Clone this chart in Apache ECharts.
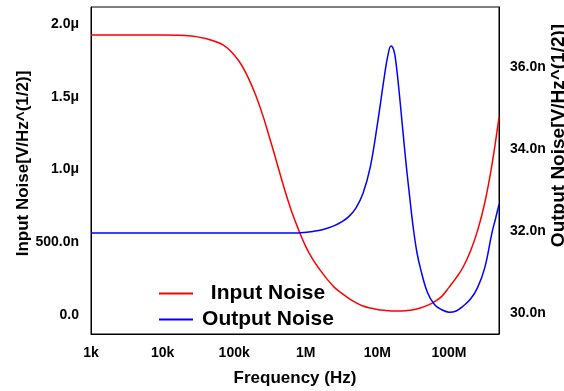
<!DOCTYPE html>
<html>
<head>
<meta charset="utf-8">
<script src="https://cdn.jsdelivr.net/npm/echarts@6/dist/echarts.min.js"></script>
<style>
html,body{margin:0;padding:0;background:#fff;}
#chart{width:564px;height:391px;}
</style>
</head>
<body>
<div id="chart"></div>
<script>
// Frequency (Hz) points for each curve
var inputFreq = [1e3, 1e4, 2.51e4, 3.98e4, 6.31e4, 7.94e4, 1e5, 1.26e5, 1.58e5, 2e5, 2.51e5, 3.16e5, 3.98e5, 5.01e5, 6.31e5, 7.94e5, 1e6, 1.26e6, 1.58e6, 2e6, 2.51e6, 3.16e6, 3.98e6, 5.01e6, 6.31e6, 7.94e6, 1e7, 1.26e7, 1.58e7, 2e7, 2.51e7, 3.16e7, 3.98e7, 5.01e7, 6.31e7, 7.94e7, 1e8, 1.26e8, 1.58e8, 2e8, 2.51e8, 3.16e8, 3.98e8, 5e8];
// Input noise in uV/sqrt(Hz)
var inputNoise = [1.924, 1.924, 1.918, 1.90, 1.868, 1.837, 1.787, 1.72, 1.628, 1.51, 1.372, 1.21, 1.04, 0.87, 0.715, 0.585, 0.47, 0.38, 0.31, 0.245, 0.19, 0.15, 0.115, 0.085, 0.062, 0.048, 0.038, 0.032, 0.028, 0.027, 0.03, 0.036, 0.048, 0.066, 0.092, 0.128, 0.19, 0.255, 0.33, 0.44, 0.58, 0.77, 1.03, 1.36];

var outputFreq = [1e3, 1e4, 1e5, 7.94e5, 1e6, 1.26e6, 1.58e6, 2e6, 2.51e6, 3.16e6, 3.98e6, 5.01e6, 6.31e6, 7.94e6, 1e7, 1.26e7, 1.41e7, 1.55e7, 1.7e7, 1.82e7, 2e7, 2.24e7, 2.51e7, 2.82e7, 3.16e7, 3.55e7, 3.98e7, 5.01e7, 6.31e7, 7.94e7, 1e8, 1.26e8, 1.58e8, 2e8, 2.51e8, 3.16e8, 3.98e8, 4.47e8, 5e8];
// Output noise in nV/sqrt(Hz)
var outputNoise = [31.95, 31.95, 31.95, 31.95, 31.97, 31.99, 32.02, 32.07, 32.13, 32.22, 32.35, 32.56, 32.92, 33.55, 34.6, 35.8, 36.3, 36.51, 36.4, 36.1, 35.45, 34.55, 33.66, 32.85, 32.1, 31.5, 31.1, 30.5, 30.2, 30.08, 30.02, 30.05, 30.17, 30.34, 30.62, 31.1, 31.95, 32.3, 32.65];

var xTickValues = [1e3, 1e4, 1e5, 1e6, 1e7, 1e8];
var xTickLabels = ['1k', '10k', '100k', '1M', '10M', '100M'];
var leftTickValues = [0, 0.5, 1.0, 1.5, 2.0];
var leftTickLabels = ['0.0', '500.0n', '1.0\u03bc', '1.5\u03bc', '2.0\u03bc'];
var rightTickValues = [30, 32, 34, 36];
var rightTickLabels = ['30.0n', '32.0n', '34.0n', '36.0n'];

function pair(xs, ys) { return xs.map(function (x, i) { return [x, ys[i]]; }); }
function lookup(vals, labels, v) {
  for (var i = 0; i < vals.length; i++) {
    if (Math.abs(vals[i] - v) <= Math.abs(vals[i]) * 1e-6 + 1e-9) return labels[i];
  }
  return '';
}

var FONT = 'Liberation Sans, Arial, sans-serif';
var chart = echarts.init(document.getElementById('chart'), null, {renderer: 'canvas'});
chart.setOption({
  animation: false,
  backgroundColor: '#fff',
  grid: {left: 91, right: 65, top: 7, bottom: 57, show: true, borderColor: '#000', borderWidth: 1, containLabel: false, outerBoundsMode: 'none'},
  legend: {
    orient: 'vertical', left: 158, top: 283, padding: 0,
    itemWidth: 34, itemHeight: 14, itemGap: 5,
    itemStyle: {opacity: 0},
    data: ['Input Noise', 'Output Noise'],
    formatter: function (n) { return '{a|' + n + '}'; },
    textStyle: {rich: {a: {width: 140, align: 'center', fontSize: 21, fontWeight: 'bold', fontFamily: FONT, color: '#000', lineHeight: 24}}}
  },
  xAxis: {
    type: 'log', logBase: 10, min: 1e3, max: 5e8,
    name: 'Frequency (Hz)', nameLocation: 'middle', nameGap: 36, nameMoveOverlap: false,
    nameTextStyle: {fontSize: 17, fontWeight: 'bold', fontFamily: FONT, color: '#000'},
    axisLine: {show: true, onZero: false, lineStyle: {color: '#000', width: 1}},
    axisTick: {show: false}, minorTick: {show: false},
    splitLine: {show: false}, minorSplitLine: {show: false},
    axisLabel: {
      margin: 12, fontSize: 14, fontWeight: 'bold', fontFamily: FONT, color: '#000',
      showMaxLabel: false,
      formatter: function (v) { return lookup(xTickValues, xTickLabels, v); }
    }
  },
  yAxis: [{
    type: 'value', position: 'left', min: -0.1306, max: 2.117,
    name: 'Input Noise[V/Hz^(1/2)]', nameLocation: 'middle', nameGap: 59, nameRotate: 90, nameMoveOverlap: false,
    nameTextStyle: {fontSize: 17, fontWeight: 'bold', fontFamily: FONT, color: '#000', padding: [0, 0, 0, 14]},
    axisLine: {show: true, onZero: false, lineStyle: {color: '#000', width: 1}},
    axisTick: {show: false}, splitLine: {show: false},
    axisLabel: {
      margin: 12, fontSize: 14, fontWeight: 'bold', fontFamily: FONT, color: '#000',
      formatter: function (v) { return lookup(leftTickValues, leftTickLabels, v); }
    }
  }, {
    type: 'value', position: 'right', min: 29.488, max: 37.463,
    name: 'Output Noise[V/Hz^(1/2)]', nameLocation: 'middle', nameGap: 50, nameRotate: 90, nameMoveOverlap: false,
    nameTextStyle: {fontSize: 19, fontWeight: 'bold', fontFamily: FONT, color: '#000', padding: [0, 0, 0, 70]},
    axisLine: {show: true, onZero: false, lineStyle: {color: '#000', width: 1}},
    axisTick: {show: false}, splitLine: {show: false},
    axisLabel: {
      margin: 11, fontSize: 14, fontWeight: 'bold', fontFamily: FONT, color: '#000',
      formatter: function (v) { return lookup(rightTickValues, rightTickLabels, v); }
    }
  }],
  series: [{
    name: 'Input Noise', type: 'line', yAxisIndex: 0, symbol: 'none', smooth: 0.4,
    data: pair(inputFreq, inputNoise),
    lineStyle: {color: '#ff0000', width: 1.5}, itemStyle: {color: '#ff0000'}
  }, {
    name: 'Output Noise', type: 'line', yAxisIndex: 1, symbol: 'none', smooth: 0.4,
    data: pair(outputFreq, outputNoise),
    lineStyle: {color: '#0000ff', width: 1.5}, itemStyle: {color: '#0000ff'}
  }]
});
</script>
</body>
</html>
